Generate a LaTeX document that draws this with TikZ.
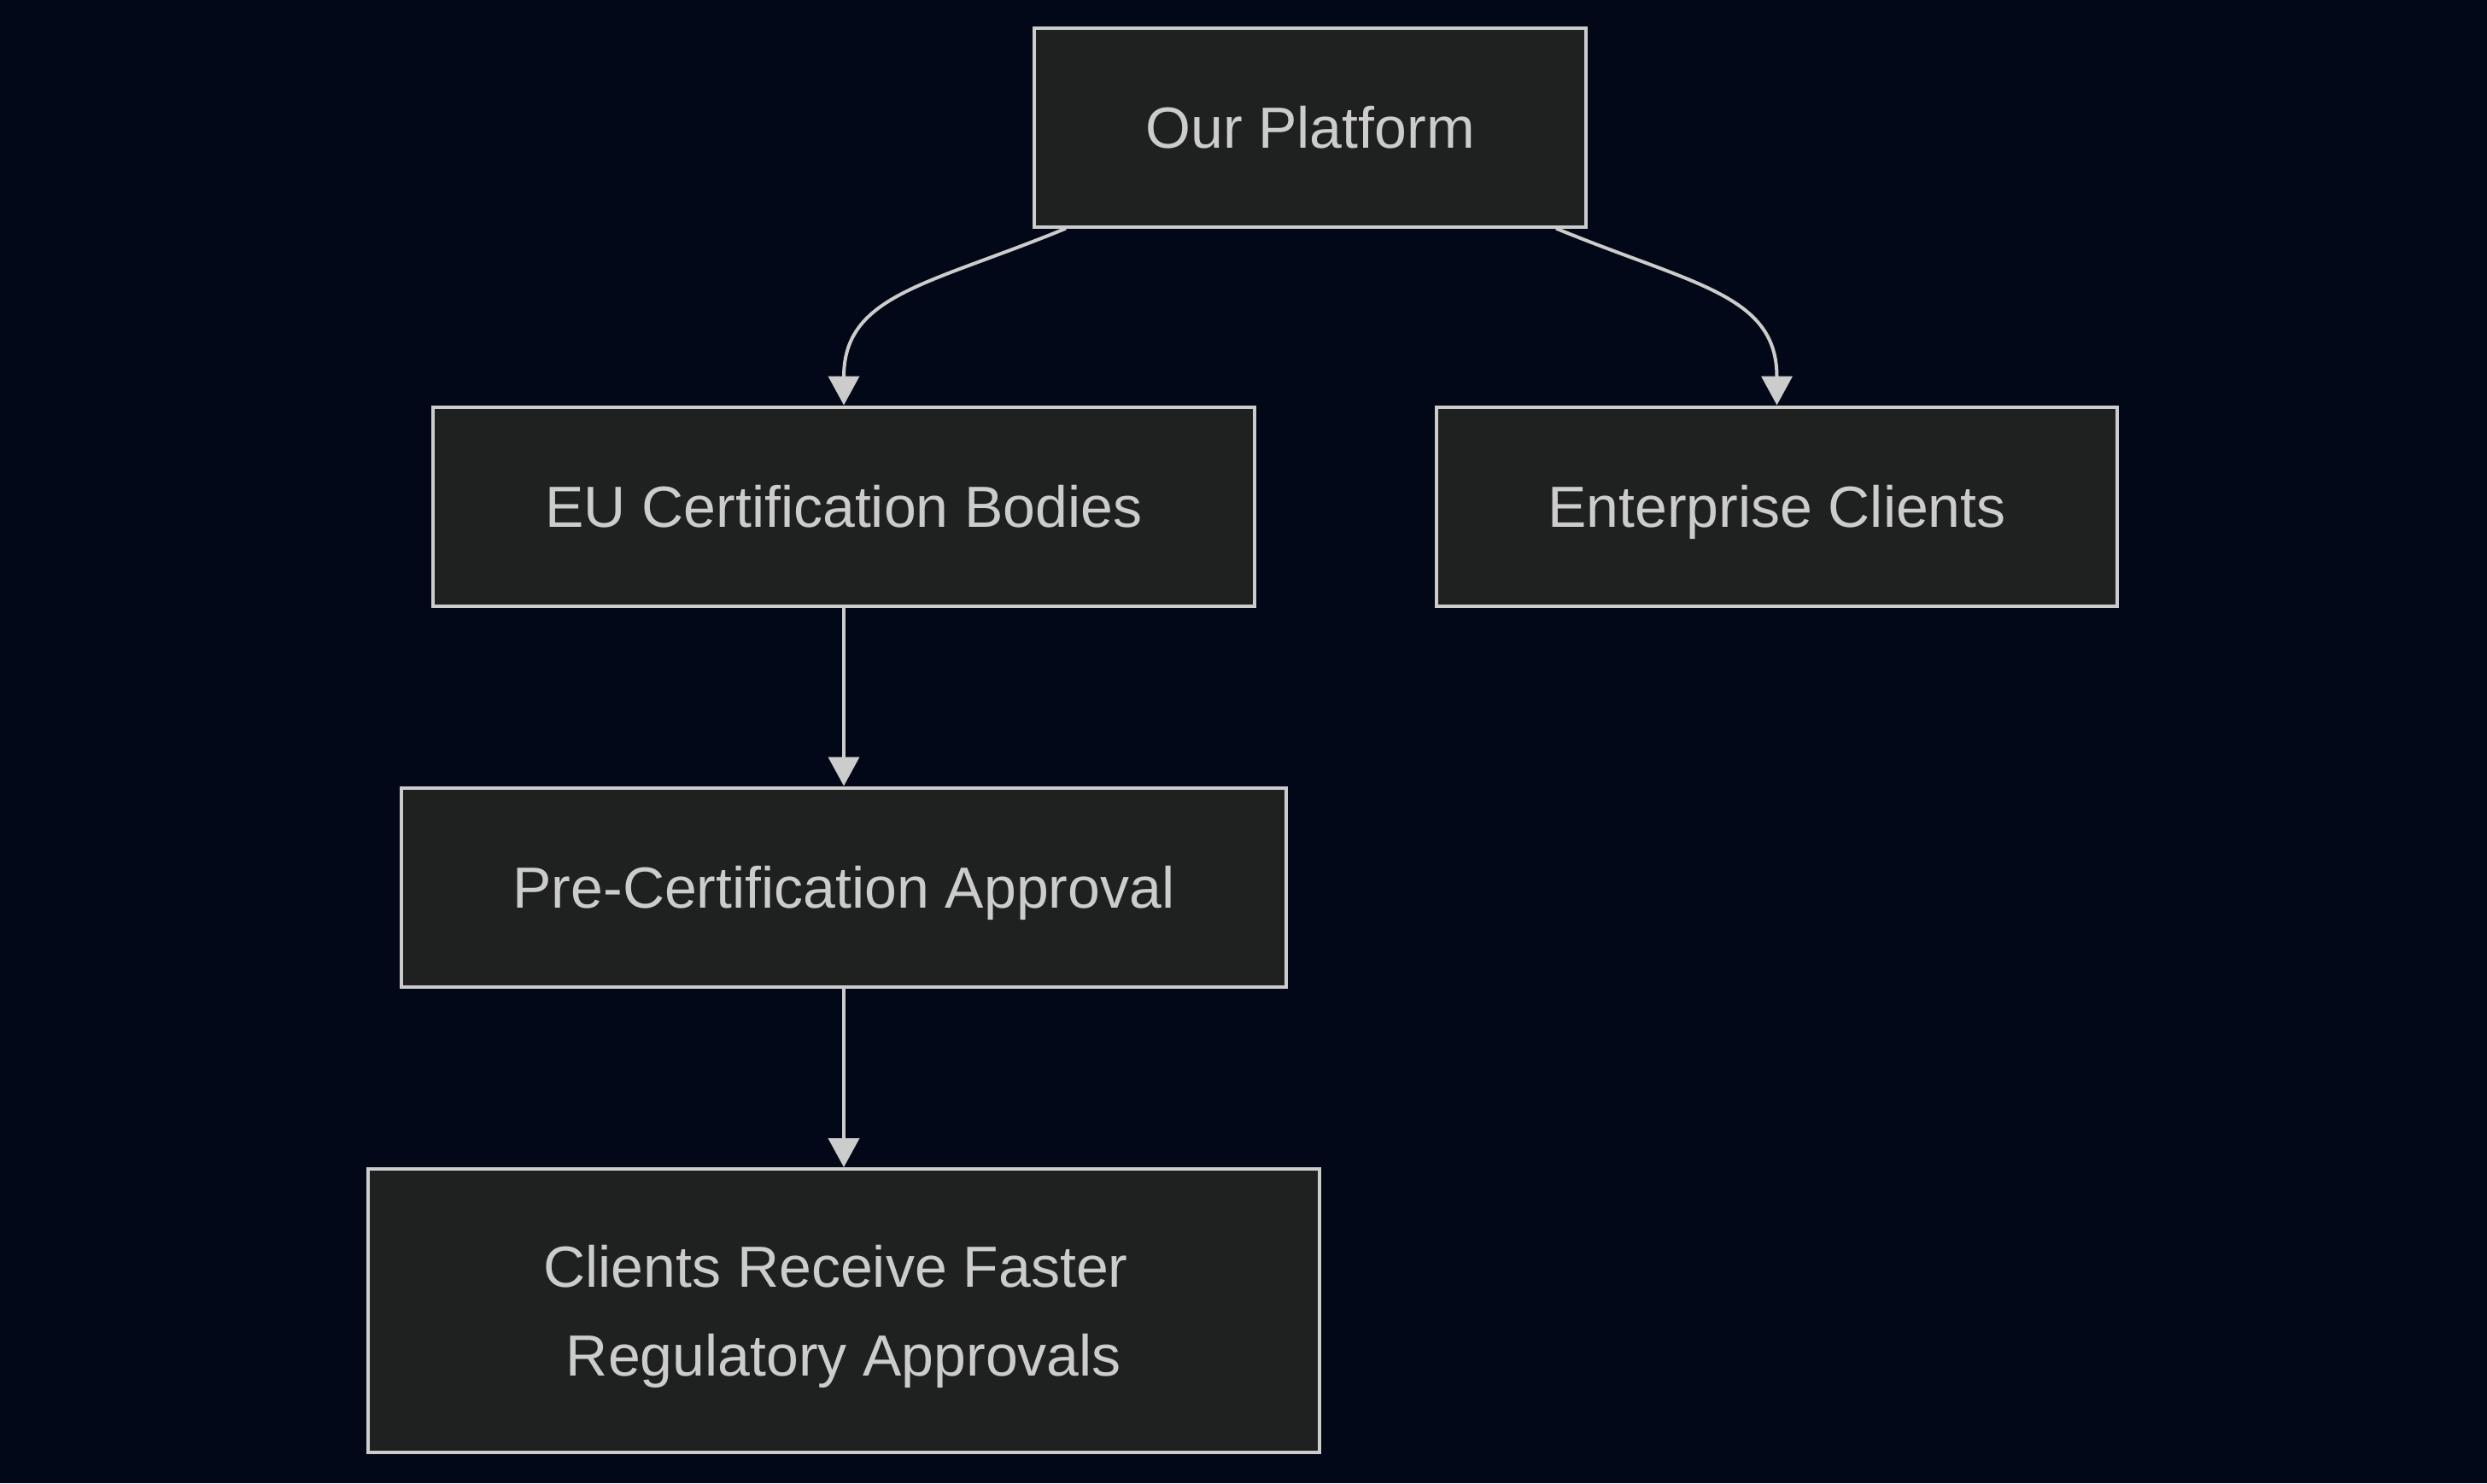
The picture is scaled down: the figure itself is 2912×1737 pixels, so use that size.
\documentclass[tikz,border=0pt]{standalone}
\usepackage{xcolor}
\usepackage{fontspec}
\setmainfont{Liberation Sans}
\usepackage{tikz}
\usetikzlibrary{arrows.meta, positioning, calc}
\definecolor{nightbg}{HTML}{020817}
\definecolor{boxfill}{HTML}{1F2020}
\definecolor{lightline}{HTML}{CCCCCC}

\begin{document}
\begin{tikzpicture}[x=0.25pt, y=-0.25pt,
    stagebox/.style={rectangle, draw=lightline, line width=1pt, fill=boxfill,
        text=lightline, minimum height=58.25pt, align=center,
        text height=12.4pt, text depth=0pt,
        font=\fontsize{17}{26}\selectfont},
    flow/.style={draw=lightline, line width=1pt, -{Triangle[length=8.5pt, width=9pt]}}]
    % Background
    \fill[nightbg] (0,0) rectangle (2912,1737);
    \useasboundingbox (0,0) rectangle (2912,1737);

    % Nodes
    \node[stagebox, minimum width=161.5pt] (platform) at (1534,149) {Our Platform};
    \node[stagebox, minimum width=240.5pt] (eubodies) at (988,593) {EU Certification Bodies};
    \node[stagebox, minimum width=199.25pt] (enterprise) at (2080.5,593) {Enterprise Clients};
    \node[stagebox, minimum width=259pt] (precert) at (988,1039) {Pre-Certification Approval};
    \node[stagebox, minimum width=278.5pt, minimum height=83pt, text height=38.4pt] (faster) at (988,1535)
        {Clients Receive Faster\hspace*{4.7pt}\\Regulatory Approvals};

    % Connectors
    \draw[flow] ([xshift=9.75pt]platform.south west) .. controls +(-160,66) and +(0,-130) .. (eubodies.north);
    \draw[flow] ([xshift=-9.25pt]platform.south east) .. controls +(160,66) and +(0,-130) .. (enterprise.north);
    \draw[flow] (eubodies) -- (precert);
    \draw[flow] (precert) -- (faster);
\end{tikzpicture}
\end{document}
